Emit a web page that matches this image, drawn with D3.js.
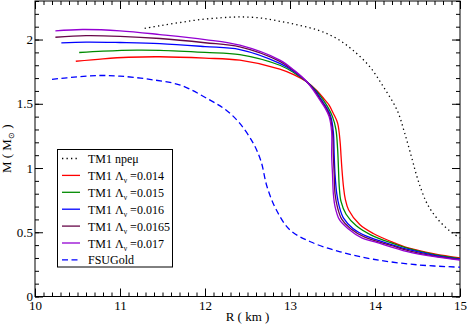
<!DOCTYPE html>
<html>
<head>
<meta charset="utf-8">
<script src="https://cdnjs.cloudflare.com/ajax/libs/d3/7.8.5/d3.min.js"></script>
<style>
  body { margin: 0; background: #fff; }
  svg { display: block; }
  text { font-family: "Liberation Serif", "Times New Roman", serif; fill: #000; }
</style>
</head>
<body>
<svg id="chart" width="467" height="326"></svg>
<script>
// M-R curves, [R (km), M (Msun)]
var tm1Npemu = [[11.29, 2.087], [11.47, 2.108], [11.7, 2.132], [11.94, 2.155], [12.2, 2.17], [12.41, 2.176],
    [12.65, 2.168], [12.88, 2.142], [13.12, 2.11], [13.35, 2.068], [13.55, 2.008], [13.74, 1.917], [13.94, 1.787],
    [14.1, 1.631], [14.26, 1.45], [14.35, 1.27], [14.44, 1.06], [14.49, 0.94], [14.54, 0.84], [14.6, 0.74],
    [14.66, 0.67], [14.76, 0.585], [14.88, 0.51], [15.0, 0.455]];
var lambda014 = [[10.48, 1.831], [10.8, 1.85], [11.1, 1.862], [11.47, 1.866], [12.0, 1.855], [12.41, 1.839],
    [12.88, 1.77], [13.05, 1.725], [13.2, 1.67], [13.32, 1.6], [13.41, 1.53], [13.46, 1.49], [13.51, 1.425],
    [13.56, 1.35], [13.59, 1.2], [13.6, 1.1], [13.61, 1.0], [13.63, 0.85], [13.65, 0.76], [13.69, 0.673],
    [13.82, 0.56], [13.98, 0.49], [14.2, 0.425], [14.38, 0.38], [14.7, 0.332], [15.0, 0.3]];
var lambda015 = [[10.52, 1.899], [10.8, 1.91], [11.2, 1.918], [11.47, 1.916], [12.0, 1.9], [12.41, 1.883],
    [12.88, 1.8], [13.05, 1.74], [13.2, 1.67], [13.31, 1.6], [13.39, 1.53], [13.44, 1.48], [13.5, 1.4],
    [13.54, 1.3], [13.56, 1.15], [13.57, 1.0], [13.58, 0.85], [13.6, 0.74], [13.66, 0.64], [13.78, 0.55],
    [13.95, 0.48], [14.2, 0.415], [14.4, 0.372], [14.7, 0.326], [15.0, 0.295]];
var lambda016 = [[10.31, 1.974], [10.6, 1.98], [11.0, 1.977], [11.47, 1.969], [12.0, 1.945], [12.41, 1.922],
    [12.88, 1.815], [13.05, 1.75], [13.2, 1.67], [13.3, 1.6], [13.37, 1.53], [13.43, 1.47], [13.48, 1.4],
    [13.51, 1.28], [13.52, 1.1], [13.53, 0.95], [13.55, 0.8], [13.58, 0.7], [13.63, 0.61], [13.74, 0.53],
    [13.9, 0.47], [14.2, 0.403], [14.4, 0.364], [14.7, 0.32], [15.0, 0.29]];
var lambda0165 = [[10.24, 2.018], [10.6, 2.03], [11.0, 2.025], [11.47, 2.008], [12.0, 1.975], [12.41, 1.943],
    [12.88, 1.83], [13.05, 1.755], [13.2, 1.67], [13.29, 1.6], [13.36, 1.53], [13.42, 1.47], [13.47, 1.4],
    [13.5, 1.28], [13.51, 1.1], [13.52, 0.95], [13.53, 0.8], [13.56, 0.69], [13.61, 0.6], [13.71, 0.53],
    [13.88, 0.462], [14.2, 0.395], [14.4, 0.356], [14.7, 0.314], [15.0, 0.287]];
var lambda017 = [[10.24, 2.067], [10.56, 2.078], [11.0, 2.068], [11.47, 2.039], [12.0, 2.0], [12.41, 1.956],
    [12.88, 1.84], [13.05, 1.76], [13.2, 1.67], [13.28, 1.6], [13.35, 1.53], [13.41, 1.47], [13.46, 1.4],
    [13.49, 1.28], [13.49, 1.1], [13.5, 0.95], [13.51, 0.8], [13.53, 0.7], [13.58, 0.6], [13.68, 0.53],
    [13.85, 0.455], [14.0, 0.425], [14.38, 0.35], [14.7, 0.31], [15.0, 0.284]];
var fsuGold = [[10.2, 1.69], [10.5, 1.71], [10.76, 1.72], [11.0, 1.715], [11.35, 1.69], [11.71, 1.645],
    [12.06, 1.528], [12.25, 1.45], [12.41, 1.347], [12.57, 1.19], [12.66, 1.05], [12.73, 0.854], [12.84, 0.673],
    [13.0, 0.517], [13.24, 0.426], [13.59, 0.348], [13.98, 0.29], [14.49, 0.247], [15.0, 0.228]];

var legendLabels = ["TM1 npeμ", "0.014", "0.015", "0.016", "0.0165", "0.017", "FSUGold"];
var xMajorTicks = [10, 11, 12, 13, 14, 15];
var yMajorTicks = [0, 0.5, 1, 1.5, 2];
var yTickLabels = ["0", "0.5", "1", "1.5", "2"];

// series drawing order and styles (xmgrace default palette)
var series = [
    { data: tm1Npemu, color: "#000000", dash: "1.3,3.2", label: legendLabels[0] },
    { data: lambda014, color: "#ff0000", dash: null, label: legendLabels[1], lambda: true },
    { data: lambda015, color: "#008b00", dash: null, label: legendLabels[2], lambda: true },
    { data: lambda016, color: "#0000ff", dash: null, label: legendLabels[3], lambda: true },
    { data: lambda0165, color: "#670748", dash: null, label: legendLabels[4], lambda: true },
    { data: lambda017, color: "#9400d3", dash: null, label: legendLabels[5], lambda: true },
    { data: fsuGold, color: "#0000ff", dash: "6,3.5", label: legendLabels[6] }
];

var svg = d3.select("#chart");
// plot frame in pixels (note: "top" is a reserved window global)
var frameLeft = 35, frameRight = 460, frameTop = 1, frameBottom = 296.5;

var x = d3.scaleLinear().domain([10, 15]).range([frameLeft, frameRight]);
var y = d3.scaleLinear().domain([0, 2.3]).range([frameBottom, frameTop]);

var xMinor = d3.range(10, 15.001, 0.1).map(function (v) { return +v.toFixed(1); });
var yMinor = d3.range(0, 2.301, 0.1).map(function (v) { return +v.toFixed(1); });

// axes, all ticks pointing inward
function drawAxis(axis, tx, ty) {
    var g = svg.append("g").attr("transform", "translate(" + tx + "," + ty + ")").call(axis);
    g.select(".domain").remove();
    g.attr("font-family", null);
    g.selectAll("line").attr("stroke", "#000");
    g.selectAll("text").attr("font-size", 13);
    return g;
}
drawAxis(d3.axisBottom(x).tickValues(xMinor).tickSize(-4).tickFormat(""), 0, frameBottom);
drawAxis(d3.axisBottom(x).tickValues(xMajorTicks).tickSize(-8).tickPadding(4).tickFormat(d3.format("d")), 0, frameBottom);
drawAxis(d3.axisTop(x).tickValues(xMinor).tickSize(-4).tickFormat(""), 0, frameTop);
drawAxis(d3.axisTop(x).tickValues(xMajorTicks).tickSize(-8).tickFormat(""), 0, frameTop);
drawAxis(d3.axisLeft(y).tickValues(yMinor).tickSize(-4).tickFormat(""), frameLeft, 0);
drawAxis(d3.axisLeft(y).tickValues(yMajorTicks).tickSize(-8).tickPadding(2)
    .tickFormat(function (d, i) { return yTickLabels[i]; }), frameLeft, 0);
drawAxis(d3.axisRight(y).tickValues(yMinor).tickSize(-4).tickFormat(""), frameRight, 0);
drawAxis(d3.axisRight(y).tickValues(yMajorTicks).tickSize(-8).tickFormat(""), frameRight, 0);

svg.append("rect")
    .attr("x", frameLeft).attr("y", frameTop)
    .attr("width", frameRight - frameLeft).attr("height", frameBottom - frameTop)
    .attr("fill", "none").attr("stroke", "#000").attr("stroke-width", 1);

// curves
var line = d3.line()
    .x(function (d) { return x(d[0]); })
    .y(function (d) { return y(d[1]); })
    .curve(d3.curveCatmullRom.alpha(0.5));

var curves = svg.append("g").attr("class", "curves");
series.forEach(function (s) {
    curves.append("path")
        .datum(s.data)
        .attr("d", line)
        .attr("fill", "none")
        .attr("stroke", s.color)
        .attr("stroke-width", 1.3)
        .attr("stroke-dasharray", s.dash);
});

// axis titles
svg.append("text")
    .attr("x", (frameLeft + frameRight) / 2).attr("y", 321)
    .attr("text-anchor", "middle").attr("font-size", 13)
    .text("R ( km )");

var yTitle = svg.append("text")
    .attr("transform", "translate(11," + (frameTop + frameBottom) / 2 + ") rotate(-90)")
    .attr("text-anchor", "middle").attr("font-size", 13);
yTitle.append("tspan").text("M ( M");
yTitle.append("tspan").attr("font-size", 8).attr("dy", 3).text("⊙");
yTitle.append("tspan").attr("dy", -3).text(" )");

// legend
var legend = svg.append("g").attr("class", "legend");
legend.append("rect")
    .attr("x", 57.5).attr("y", 149.5).attr("width", 115).attr("height", 117.5)
    .attr("fill", "#fff").attr("stroke", "#000").attr("stroke-width", 1);

series.forEach(function (s, i) {
    var ly = 158.5 + i * 16.9;
    legend.append("line")
        .attr("x1", 62).attr("x2", 80).attr("y1", ly).attr("y2", ly)
        .attr("stroke", s.color).attr("stroke-width", 1.3)
        .attr("stroke-dasharray", s.dash);
    var t = legend.append("text")
        .attr("x", 88).attr("y", ly + 4.5).attr("font-size", 12);
    if (s.lambda) {
        t.append("tspan").text("TM1 Λ");
        t.append("tspan").attr("font-size", 7.5).attr("dy", 3).text("ν");
        t.append("tspan").attr("dy", -3).text(" =" + s.label);
    } else {
        t.text(s.label);
    }
});
</script>
</body>
</html>
